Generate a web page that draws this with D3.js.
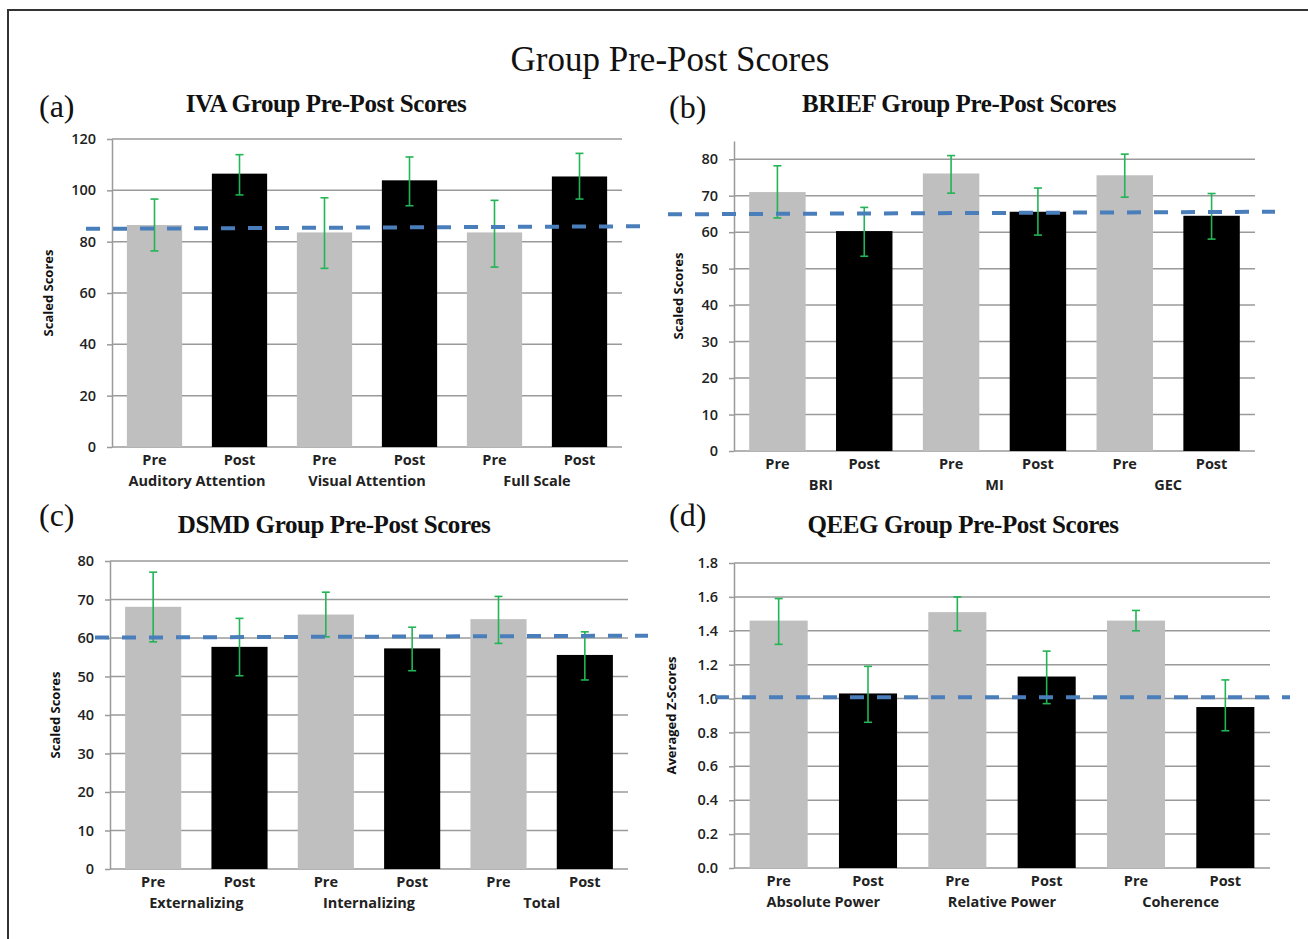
<!DOCTYPE html>
<html>
<head>
<meta charset="utf-8">
<script src="https://cdn.jsdelivr.net/npm/d3@7"></script>
<style>
  body { margin: 0; background: #fff; }
  svg { display: block; }
</style>
</head>
<body>
<svg id="chart" width="1308" height="939"></svg>
<script>
// ---- data ----
const barLabels = ["Pre", "Post"];

const ivaGroups = ["Auditory Attention", "Visual Attention", "Full Scale"];
const ivaMeans = [86.5, 106.5, 83.6, 103.9, 83.6, 105.4];
const ivaLow = [76.4, 98.2, 69.6, 94.0, 70.1, 96.6];
const ivaHigh = [96.6, 113.9, 97.1, 113.0, 96.1, 114.4];
const ivaTicks = [0, 20, 40, 60, 80, 100, 120];

const briefGroups = ["BRI", "MI", "GEC"];
const briefMeans = [71.0, 60.3, 76.1, 65.6, 75.6, 64.5];
const briefLow = [63.9, 53.4, 70.7, 59.2, 69.6, 58.1];
const briefHigh = [78.2, 66.8, 81.0, 72.1, 81.4, 70.6];
const briefTicks = [0, 10, 20, 30, 40, 50, 60, 70, 80];

const dsmdGroups = ["Externalizing", "Internalizing", "Total"];
const dsmdMeans = [68.1, 57.7, 66.1, 57.3, 64.9, 55.6];
const dsmdLow = [59.0, 50.2, 60.3, 51.5, 58.6, 49.1];
const dsmdHigh = [77.1, 65.1, 71.9, 62.8, 70.8, 61.6];
const dsmdTicks = [0, 10, 20, 30, 40, 50, 60, 70, 80];

const qeegGroups = ["Absolute Power", "Relative Power", "Coherence"];
const qeegMeans = [1.46, 1.03, 1.51, 1.13, 1.46, 0.95];
const qeegLow = [1.32, 0.86, 1.40, 0.97, 1.40, 0.81];
const qeegHigh = [1.59, 1.19, 1.60, 1.28, 1.52, 1.11];
const qeegTicks = [0, 0.2, 0.4, 0.6, 0.8, 1.0, 1.2, 1.4, 1.6, 1.8];

// dashed cut-off lines (value at left end, value at right end)
const ivaCutoff = [85.0, 86.0];
const briefCutoff = [64.9, 65.6];
const dsmdCutoff = [60.1, 60.6];
const qeegCutoff = [1.007, 1.007];

// ---- layout ----
const svg = d3.select("#chart");
const serif = "'Liberation Serif', 'Times New Roman', serif";
const sans = "'Open Sans', Lato, sans-serif";

// frame
svg.append("path")
    .attr("d", "M8,1000 L8,10 L1320,10")
    .attr("fill", "none")
    .attr("stroke", "#333")
    .attr("stroke-width", 2);

svg.append("text")
    .attr("x", 670)
    .attr("y", 71)
    .attr("text-anchor", "middle")
    .style("font-family", serif)
    .style("font-size", "35px")
    .attr("fill", "#111")
    .text("Group Pre-Post Scores");

const panels = [
    {tag: "(a)", title: "IVA Group Pre-Post Scores", groups: ivaGroups, means: ivaMeans, low: ivaLow, high: ivaHigh,
     ticks: ivaTicks, yMax: 120, fmt: d3.format("d"), yLabel: "Scaled Scores", cutoff: ivaCutoff,
     x0: 112, x1: 622, top: 139, bottom: 447, tagX: 39, tagY: 117, titleX: 326, titleY: 112,
     yLabelX: 48, cutX0: 86, cutX1: 640},
    {tag: "(b)", title: "BRIEF Group Pre-Post Scores", groups: briefGroups, means: briefMeans, low: briefLow, high: briefHigh,
     ticks: briefTicks, yMax: 85, fmt: d3.format("d"), yLabel: "Scaled Scores", cutoff: briefCutoff,
     x0: 734, x1: 1255, top: 141, bottom: 451, tagX: 669, tagY: 118, titleX: 959, titleY: 112,
     yLabelX: 678, cutX0: 668, cutX1: 1275},
    {tag: "(c)", title: "DSMD Group Pre-Post Scores", groups: dsmdGroups, means: dsmdMeans, low: dsmdLow, high: dsmdHigh,
     ticks: dsmdTicks, yMax: 80, fmt: d3.format("d"), yLabel: "Scaled Scores", cutoff: dsmdCutoff,
     x0: 110, x1: 628, top: 561, bottom: 869, tagX: 39, tagY: 526, titleX: 334, titleY: 533,
     yLabelX: 55, cutX0: 95, cutX1: 648},
    {tag: "(d)", title: "QEEG Group Pre-Post Scores", groups: qeegGroups, means: qeegMeans, low: qeegLow, high: qeegHigh,
     ticks: qeegTicks, yMax: 1.8, fmt: d3.format(".1f"), yLabel: "Averaged Z-Scores", cutoff: qeegCutoff,
     x0: 734, x1: 1270, top: 563, bottom: 868, tagX: 669, tagY: 526, titleX: 963, titleY: 533,
     yLabelX: 671, cutX0: 715, cutX1: 1290}
];

panels.forEach(p => drawPanel(p));

function drawPanel(p) {
    const g = svg.append("g");

    // one slot per bar: group|Pre, group|Post ...
    const keys = [];
    p.groups.forEach(grp => barLabels.forEach(b => keys.push(grp + "|" + b)));
    const rows = keys.map((k, i) => ({key: k, label: k.split("|")[1], mean: p.means[i], low: p.low[i], high: p.high[i]}));

    const x = d3.scaleBand()
        .domain(keys)
        .range([p.x0, p.x1])
        .paddingInner(0.35)
        .paddingOuter(0.175);

    const y = d3.scaleLinear()
        .domain([0, p.yMax])
        .range([p.bottom, p.top]);

    // gridlines
    g.selectAll(".grid")
        .data(p.ticks)
        .enter()
        .append("line")
        .attr("class", "grid")
        .attr("x1", p.x0)
        .attr("x2", p.x1)
        .attr("y1", d => y(d))
        .attr("y2", d => y(d))
        .attr("stroke", "#9a9a9a")
        .attr("stroke-width", 1.5);

    // y axis
    const yAxis = g.append("g")
        .attr("transform", `translate(${p.x0},0)`)
        .call(d3.axisLeft(y).tickValues(p.ticks).tickFormat(p.fmt).tickSize(5).tickSizeOuter(0).tickPadding(11));
    yAxis.select(".domain").attr("stroke", "#9a9a9a").attr("stroke-width", 1.5);
    yAxis.selectAll(".tick line").attr("stroke", "#9a9a9a").attr("stroke-width", 1.5);
    yAxis.selectAll(".tick text")
        .style("font-family", sans)
        .style("font-size", "14.5px")
        .style("font-weight", "600")
        .attr("fill", "#222");

    // bars
    g.selectAll(".bar")
        .data(rows)
        .enter()
        .append("rect")
        .attr("class", "bar")
        .attr("x", d => x(d.key))
        .attr("y", d => y(d.mean))
        .attr("width", x.bandwidth())
        .attr("height", d => y(0) - y(d.mean))
        .attr("fill", d => d.label === "Pre" ? "#bfbfbf" : "#000");

    // error bars
    const err = g.selectAll(".err")
        .data(rows)
        .enter()
        .append("g")
        .attr("class", "err")
        .attr("stroke", "#22b455")
        .attr("stroke-width", 1.6);
    err.append("line")
        .attr("x1", d => x(d.key) + x.bandwidth() / 2)
        .attr("x2", d => x(d.key) + x.bandwidth() / 2)
        .attr("y1", d => y(d.low))
        .attr("y2", d => y(d.high));
    ["low", "high"].forEach(end => {
        err.append("line")
            .attr("x1", d => x(d.key) + x.bandwidth() / 2 - 4)
            .attr("x2", d => x(d.key) + x.bandwidth() / 2 + 4)
            .attr("y1", d => y(d[end]))
            .attr("y2", d => y(d[end]));
    });

    // dashed cut-off line
    g.append("line")
        .attr("x1", p.cutX0)
        .attr("x2", p.cutX1)
        .attr("y1", y(p.cutoff[0]))
        .attr("y2", y(p.cutoff[1]))
        .attr("stroke", "#4a7ebb")
        .attr("stroke-width", 4)
        .attr("stroke-dasharray", "14 13");

    // category labels
    g.selectAll(".bar-label")
        .data(rows)
        .enter()
        .append("text")
        .attr("class", "bar-label")
        .attr("x", d => x(d.key) + x.bandwidth() / 2)
        .attr("y", p.bottom + 18)
        .attr("text-anchor", "middle")
        .style("font-family", sans)
        .style("font-size", "14.5px")
        .style("font-weight", "bold")
        .attr("fill", "#222")
        .text(d => d.label);

    g.selectAll(".group-label")
        .data(p.groups)
        .enter()
        .append("text")
        .attr("class", "group-label")
        .attr("x", grp => (x(grp + "|Pre") + x(grp + "|Post") + x.bandwidth()) / 2)
        .attr("y", p.bottom + 39)
        .attr("text-anchor", "middle")
        .style("font-family", sans)
        .style("font-size", "14.5px")
        .style("font-weight", "bold")
        .attr("fill", "#222")
        .text(grp => grp);

    // y axis title
    g.append("text")
        .attr("transform", `translate(${p.yLabelX},${(p.top + p.bottom) / 2}) rotate(-90)`)
        .attr("dy", "0.35em")
        .attr("text-anchor", "middle")
        .style("font-family", sans)
        .style("font-size", "13px")
        .style("font-weight", "bold")
        .attr("fill", "#111")
        .text(p.yLabel);

    // panel title and tag
    g.append("text")
        .attr("x", p.titleX)
        .attr("y", p.titleY)
        .attr("text-anchor", "middle")
        .style("font-family", serif)
        .style("font-size", "25px")
        .style("font-weight", "bold")
        .style("letter-spacing", "-0.4px")
        .attr("fill", "#111")
        .text(p.title);

    g.append("text")
        .attr("x", p.tagX)
        .attr("y", p.tagY)
        .style("font-family", serif)
        .style("font-size", "32px")
        .attr("fill", "#111")
        .text(p.tag);
}
</script>
</body>
</html>
